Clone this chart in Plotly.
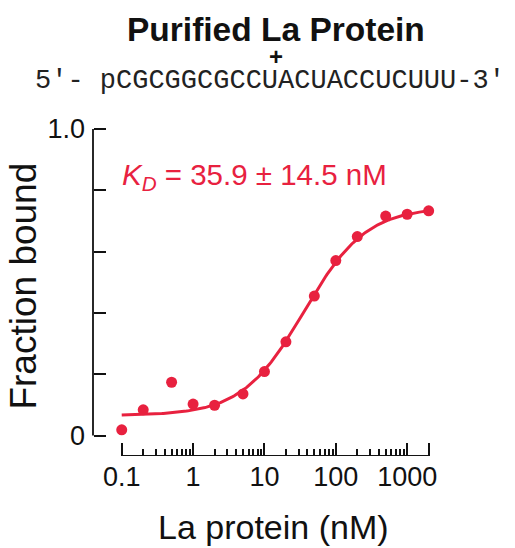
import numpy as np
import plotly.graph_objects as go

# ---- data ----
conc_nM = [0.1, 0.2, 0.5, 1, 2, 5, 10, 20, 50, 100, 200, 500, 1000, 2000]
fraction_bound = [0.019, 0.084, 0.174, 0.103, 0.099, 0.136, 0.209, 0.306,
                  0.455, 0.571, 0.649, 0.716, 0.722, 0.733]

# fitted one-site binding model (parameters of the drawn fit)
kd_nM = 35.9
kd_err_nM = 14.5
fit_bottom = 0.065
fit_top = 0.745

x_label_ticks = [0.1, 1, 10, 100, 1000]
x_label_text = ["0.1", "1", "10", "100", "1000"]
x_major_ticks = [0.1, 1, 10, 100, 1000, 2000]
x_minor_ticks = [m * d for d in (0.1, 1, 10, 100) for m in range(2, 10)]
y_label_ticks = [0, 1.0]
y_label_text = ["0", "1.0"]
y_ticks = [0, 0.2, 0.4, 0.6, 0.8, 1.0]

title_text = "Purified La Protein"
sequence_text = "5\u2032- pCGCGGCGCCUACUACCUCUUU-3\u2032"
x_title = "La protein (nM)"
y_title = "Fraction bound"

RED = "#e8213f"
INK = "#111111"
FONT = "Liberation Sans, Arial, Helvetica, sans-serif"

# fit curve from the model parameters
xfit = np.logspace(np.log10(conc_nM[0]), np.log10(conc_nM[-1]), 200)
yfit = fit_bottom + (fit_top - fit_bottom) * xfit / (kd_nM + xfit)

y_min = -0.0665
y_range = [y_min, 1.0]
x_range = [-1.4025, 3.46]

fig = go.Figure()
# detached x-axis baseline spanning the concentration range (drawn on each overlay
# axis pair so every tick axis is attached to a trace)
for xa, ya in (("x", "y"), ("x2", "y2"), ("x3", "y2")):
    fig.add_trace(go.Scatter(x=[conc_nM[0], conc_nM[-1]], y=[y_min, y_min],
                             mode="lines", xaxis=xa, yaxis=ya,
                             line=dict(color=INK, width=1.6), cliponaxis=False,
                             hoverinfo="skip", showlegend=False))
fig.add_trace(go.Scatter(x=xfit, y=yfit, mode="lines",
                         line=dict(color=RED, width=3), showlegend=False))
fig.add_trace(go.Scatter(x=conc_nM, y=fraction_bound, mode="markers",
                         marker=dict(color=RED, size=11), cliponaxis=False,
                         showlegend=False))

common_x = dict(type="log", range=x_range, showgrid=False, zeroline=False, showline=False)
common_y = dict(range=y_range, showgrid=False, zeroline=False, showline=False)

fig.update_layout(
    width=515, height=548,
    margin=dict(l=93, r=75, t=129, b=92),
    paper_bgcolor="white", plot_bgcolor="white",
    font=dict(family=FONT, color=INK),
    # label axes (no ticks)
    xaxis=dict(**common_x, ticks="", tickmode="array", tickvals=x_label_ticks,
               ticktext=x_label_text, tickangle=0,
               tickfont=dict(size=27, color=INK), ticklabelstandoff=2),
    yaxis=dict(**common_y, ticks="", tickmode="array", tickvals=y_label_ticks,
               ticktext=y_label_text, tickfont=dict(size=27, color=INK),
               ticklabelstandoff=7),
    # tick axes: placed on the plot edge, opposite side, so outside ticks point inward
    xaxis2=dict(**common_x, overlaying="x", side="top", anchor="free", position=0,
                ticks="outside", ticklen=13, tickwidth=2, tickcolor=INK,
                tickmode="array", tickvals=x_major_ticks, showticklabels=False),
    xaxis3=dict(**common_x, overlaying="x", side="top", anchor="free", position=0,
                ticks="outside", ticklen=7, tickwidth=1.5, tickcolor=INK,
                tickmode="array", tickvals=x_minor_ticks, showticklabels=False),
    yaxis2=dict(**common_y, overlaying="y", side="right", anchor="free", position=0,
                ticks="outside", ticklen=12, tickwidth=2, tickcolor=INK,
                tickmode="array", tickvals=y_ticks, showticklabels=False),
    shapes=[dict(type="line", xref="paper", yref="y", x0=0, x1=0, y0=0, y1=1.0,
                 line=dict(color=INK, width=1.8))],
)

annotations = [
    dict(text="<b>" + title_text + "</b>", x=0.527, y=1.303, xref="paper", yref="paper",
         showarrow=False, font=dict(size=33.5, color=INK, family=FONT),
         xanchor="center", yanchor="middle"),
    dict(text="<b>+</b>", x=0.527, y=1.222, xref="paper", yref="paper",
         showarrow=False, font=dict(size=24, color=INK, family=FONT),
         xanchor="center", yanchor="middle"),
    dict(text=sequence_text, x=0.511, y=1.148, xref="paper", yref="paper",
         showarrow=False, font=dict(size=27, color="#222222",
                                    family="Courier New, Liberation Mono, monospace"),
         xanchor="center", yanchor="middle"),
    dict(text="<i>K</i><sub><i>D</i></sub> = %.1f \u00b1 %.1f nM" % (kd_nM, kd_err_nM),
         x=0.077, y=0.856, xref="paper", yref="paper", showarrow=False,
         font=dict(size=29.5, color=RED, family=FONT), xanchor="left", yanchor="middle"),
    dict(text=x_title, x=0.52, y=-0.217, xref="paper", yref="paper", showarrow=False,
         font=dict(size=34, color=INK, family=FONT), xanchor="center", yanchor="middle"),
    dict(text=y_title, x=-0.2, y=0.52, xref="paper", yref="paper", showarrow=False,
         textangle=-90, font=dict(size=37, color=INK, family=FONT),
         xanchor="center", yanchor="middle"),
]
fig.update_layout(annotations=annotations)

fig.write_html("out.html")
